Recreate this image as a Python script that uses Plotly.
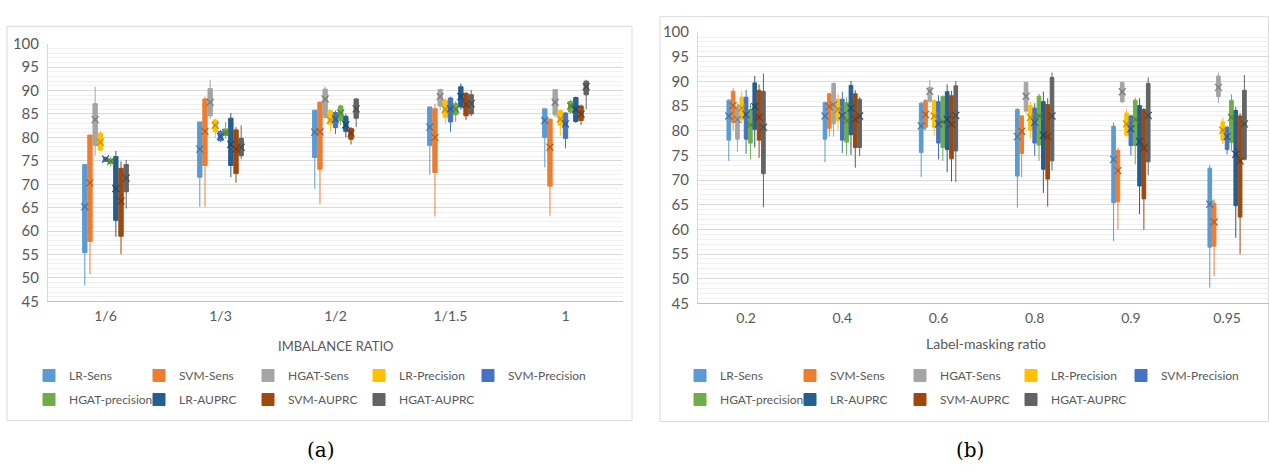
import plotly.graph_objects as go

# ---------------- data ----------------
SERIES = ["LR-Sens", "SVM-Sens", "HGAT-Sens", "LR-Precision", "SVM-Precision",
          "HGAT-precision", "LR-AUPRC", "SVM-AUPRC", "HGAT-AUPRC"]
COLORS = ["#5B9BD5", "#ED7D31", "#A5A5A5", "#FFC000", "#4472C4",
          "#70AD47", "#255E91", "#9E480E", "#636363"]

CATS_A = ["1/6", "1/3", "1/2", "1/1.5", "1"]
CATS_B = ["0.2", "0.4", "0.6", "0.8", "0.9", "0.95"]

# panel (a): rows = series, columns = imbalance ratio
A_LO = [[48.4, 65.2, 69.1, 72.0, 73.6], [50.8, 65.2, 65.8, 63.1, 63.3], [76.1, 84.0, 84.0, 85.9, 84.3],
        [77.0, 80.0, 81.3, 82.9, 80.3], [74.7, 79.0, 80.7, 81.2, 77.7], [73.8, 79.8, 82.6, 83.3, 85.0],
        [58.8, 71.5, 80.0, 85.9, 83.1], [55.1, 70.3, 78.5, 83.7, 82.6], [64.8, 75.4, 82.2, 84.5, 86.0]]
A_Q1 = [[55.4, 71.5, 75.7, 78.3, 80.0], [57.8, 74.0, 73.2, 72.5, 69.6], [78.3, 84.6, 84.3, 86.7, 84.8],
        [77.3, 81.2, 82.8, 84.3, 82.6], [74.9, 79.3, 82.1, 83.3, 79.8], [74.4, 80.4, 83.6, 84.8, 85.4],
        [62.3, 74.0, 81.3, 86.5, 83.4], [58.9, 72.3, 79.6, 84.6, 83.6], [68.4, 76.1, 84.1, 85.0, 89.1]]
A_MED = [[67.9, 79.2, 83.3, 84.8, 85.0], [75.2, 85.0, 84.6, 83.5, 81.3], [83.6, 87.8, 88.5, 88.8, 87.8],
         [79.5, 82.5, 84.0, 86.2, 84.0], [75.3, 80.3, 84.0, 86.0, 82.5], [74.8, 81.0, 85.5, 86.0, 86.8],
         [69.5, 78.8, 83.0, 88.8, 86.0], [67.5, 77.5, 80.8, 87.0, 85.0], [71.0, 77.8, 86.0, 87.3, 90.8]]
A_Q3 = [[74.2, 83.3, 85.8, 86.5, 86.1], [80.5, 88.2, 87.5, 86.1, 83.9], [87.2, 90.4, 90.3, 90.2, 90.2],
        [80.9, 83.7, 85.7, 87.9, 85.7], [75.7, 81.3, 85.3, 88.4, 85.2], [75.4, 81.8, 86.7, 87.2, 87.7],
        [75.9, 84.1, 84.5, 90.8, 88.5], [73.4, 81.6, 81.9, 89.4, 86.7], [74.2, 79.8, 88.2, 89.1, 92.0]]
A_HI = [[74.2, 83.3, 85.8, 86.5, 86.1], [80.5, 88.7, 87.7, 87.2, 83.9], [90.8, 92.3, 90.8, 90.4, 90.2],
        [81.4, 84.0, 86.0, 88.5, 86.0], [75.9, 81.6, 85.7, 88.7, 85.4], [75.9, 83.3, 87.0, 87.7, 88.0],
        [77.1, 85.2, 85.0, 91.5, 88.7], [74.9, 82.2, 82.2, 89.7, 87.0], [75.2, 82.6, 88.4, 90.1, 92.3]]
A_MEAN = [[65.2, 77.5, 81.1, 82.2, 83.6], [70.3, 81.3, 81.2, 80.0, 77.9], [83.8, 87.5, 88.2, 88.7, 87.5],
          [79.0, 82.6, 83.7, 86.0, 83.9], [75.4, 80.2, 83.9, 86.1, 82.9], [74.9, 81.0, 85.2, 86.0, 86.7],
          [69.1, 78.5, 82.7, 88.7, 86.0], [66.4, 77.5, 80.9, 87.0, 85.0], [71.3, 77.9, 86.1, 87.2, 90.8]]

# panel (b): rows = series, columns = label-masking ratio
B_LO = [[73.9, 73.6, 70.6, 64.4, 57.6, 48.2], [80.1, 78.8, 80.1, 70.6, 59.9, 50.5],
        [75.7, 78.8, 85.6, 83.5, 85.6, 85.6], [81.6, 80.1, 79.0, 78.4, 78.8, 77.3],
        [75.3, 75.5, 74.2, 74.9, 75.0, 75.2], [74.2, 75.1, 73.9, 73.9, 73.2, 75.8],
        [76.6, 75.1, 71.6, 67.4, 63.1, 58.3], [74.5, 72.5, 69.7, 64.6, 59.9, 55.0],
        [64.5, 74.9, 69.6, 71.9, 71.0, 74.0]]
B_Q1 = [[78.1, 78.3, 75.6, 70.8, 65.4, 56.4], [81.7, 80.5, 80.7, 75.4, 65.6, 56.6],
        [78.3, 81.4, 86.0, 84.0, 85.9, 86.9], [82.3, 82.0, 80.7, 80.1, 79.1, 78.1],
        [78.3, 78.1, 77.5, 77.5, 77.0, 76.2], [77.5, 77.7, 76.6, 77.1, 77.0, 77.6],
        [80.3, 79.2, 76.2, 72.2, 68.8, 64.8], [78.1, 76.6, 74.3, 70.2, 66.2, 62.5],
        [71.3, 76.6, 75.9, 73.9, 73.7, 74.2]]
B_MED = [[83.5, 84.0, 83.0, 82.0, 77.5, 68.8], [85.5, 85.0, 83.5, 80.5, 72.5, 62.0],
         [82.5, 85.5, 88.0, 87.5, 88.0, 89.0], [84.8, 84.5, 83.2, 82.8, 81.5, 80.2],
         [83.5, 83.5, 81.8, 82.0, 80.5, 78.8], [81.5, 82.5, 82.0, 83.0, 82.5, 83.0],
         [85.5, 85.0, 82.5, 80.0, 78.5, 76.0], [83.0, 82.5, 81.5, 79.5, 77.5, 75.0],
         [82.0, 83.0, 84.0, 84.0, 84.5, 82.5]]
B_Q3 = [[86.2, 85.7, 85.6, 84.3, 80.9, 72.4], [88.0, 87.5, 86.1, 83.0, 76.0, 65.3],
        [84.9, 89.6, 88.8, 89.8, 89.8, 91.1], [86.8, 86.4, 86.1, 85.1, 83.6, 81.8],
        [86.8, 86.4, 85.9, 84.6, 83.0, 80.7], [84.3, 85.7, 86.9, 87.0, 86.2, 86.2],
        [89.7, 89.2, 87.9, 85.9, 85.1, 84.1], [88.2, 87.5, 87.1, 85.3, 84.3, 83.0],
        [88.0, 86.4, 89.1, 90.8, 89.6, 88.2]]
B_HI = [[86.4, 85.9, 85.8, 84.6, 81.7, 73.1], [88.6, 87.7, 86.4, 83.2, 76.5, 66.1],
        [85.6, 89.8, 90.3, 89.9, 89.9, 91.8], [88.0, 87.4, 86.4, 85.9, 84.4, 82.7],
        [88.3, 87.9, 87.2, 85.6, 83.3, 81.0], [85.5, 86.8, 87.2, 87.5, 86.7, 87.4],
        [91.1, 90.1, 89.4, 87.9, 86.6, 84.8], [89.4, 88.2, 88.1, 86.6, 84.6, 83.6],
        [91.6, 86.8, 90.1, 91.8, 90.8, 91.3]]
B_MEAN = [[83.0, 83.0, 81.0, 78.8, 74.2, 65.1], [85.1, 84.9, 83.3, 79.9, 71.9, 61.5],
          [82.3, 85.3, 88.0, 87.0, 87.9, 88.8], [84.6, 84.3, 83.0, 82.7, 81.4, 80.1],
          [83.3, 83.1, 81.4, 81.7, 80.4, 78.8], [81.2, 82.0, 81.8, 83.0, 82.3, 82.7],
          [84.9, 84.6, 82.3, 79.1, 77.8, 75.2], [82.7, 82.3, 81.3, 78.8, 76.5, 73.9],
          [80.7, 83.0, 83.1, 83.0, 83.1, 81.4]]

Y_TICKS = list(range(45, 101, 5))

# ---------------- styling ----------------
W, H = 1269, 471
FONT = "Lato"
TXT = "#595959"
PITCH = 0.045      # dodge between series inside one category (category units)
BOXW = 0.038
# legend text start (px) per column, and rows (px) for each panel
LEG_COLS = [[67, 177, 286, 397, 506], [718, 828, 938, 1049, 1159]]
LEG_ROWS = [380, 405]


def darker(hexcol, f=0.7):
    h = hexcol.lstrip("#")
    r, g, b = (int(h[i:i + 2], 16) for i in (0, 2, 4))
    return "rgb(%d,%d,%d)" % (r * f, g * f, b * f)


def px_x(p):
    return p / W


def px_y(p):
    return 1 - p / H


fig = go.Figure()

panels = [
    dict(cats=CATS_A, lo=A_LO, q1=A_Q1, med=A_MED, q3=A_Q3, hi=A_HI, mean=A_MEAN, xa="x", ya="y"),
    dict(cats=CATS_B, lo=B_LO, q1=B_Q1, med=B_MED, q3=B_Q3, hi=B_HI, mean=B_MEAN, xa="x2", ya="y2"),
]

legend_common = dict(
    orientation="h", xanchor="left", yanchor="middle",
    font=dict(family=FONT, size=12, color=TXT), bgcolor="rgba(0,0,0,0)",
    itemclick=False, itemdoubleclick=False,
)
legend_layout = {}
leg_idx = 0

for pi, p in enumerate(panels):
    n = len(p["cats"])
    for j, name in enumerate(SERIES):
        xs = [c + (j - (len(SERIES) - 1) / 2) * PITCH for c in range(n)]
        col = COLORS[j]
        leg_idx += 1
        leg_name = "legend" if leg_idx == 1 else "legend%d" % leg_idx
        row, colm = divmod(j, 5)
        legend_layout[leg_name] = dict(legend_common,
                                       x=px_x(LEG_COLS[pi][colm] - 38), y=px_y(LEG_ROWS[row]))
        fig.add_trace(go.Box(
            x=xs, q1=p["q1"][j], median=p["med"][j], q3=p["q3"][j],
            lowerfence=p["lo"][j], upperfence=p["hi"][j], mean=p["mean"][j],
            boxpoints=False, whiskerwidth=0, width=BOXW,
            name=name, fillcolor=col, line=dict(color=col, width=1),
            marker=dict(color=col),
            xaxis=p["xa"], yaxis=p["ya"], legend=leg_name,
        ))
        fig.add_trace(go.Scatter(
            x=xs, y=p["mean"][j], mode="markers", showlegend=False,
            marker=dict(symbol="x-thin", size=7,
                        line=dict(color=darker(col, 0.75), width=1.2)),
            xaxis=p["xa"], yaxis=p["ya"], hoverinfo="skip",
        ))

axis_common_y = dict(
    range=[45, 100], tickvals=Y_TICKS, showgrid=True, gridcolor="#d9d9d9", gridwidth=1,
    minor=dict(dtick=1, showgrid=True, gridcolor="#f0f0f0", gridwidth=1),
    zeroline=False, showline=True, linecolor="#d9d9d9", linewidth=1,
    ticks="outside", ticklen=5, tickcolor="rgba(0,0,0,0)",
    tickfont=dict(family=FONT, size=15, color=TXT), fixedrange=True,
)
axis_common_x = dict(
    showgrid=False, zeroline=False, showline=True, linecolor="#bfbfbf", linewidth=1,
    ticks="outside", ticklen=2, tickcolor="rgba(0,0,0,0)",
    tickfont=dict(family=FONT, size=14, color=TXT), fixedrange=True,
)

fig.update_layout(
    width=W, height=H, margin=dict(l=0, r=0, t=0, b=0),
    paper_bgcolor="white", plot_bgcolor="white",
    boxmode="overlay", showlegend=True,
    xaxis=dict(axis_common_x, domain=[px_x(48), px_x(623)], range=[-0.5, len(CATS_A) - 0.5],
               tickvals=list(range(len(CATS_A))), ticktext=CATS_A, anchor="y"),
    yaxis=dict(axis_common_y, domain=[px_y(303), px_y(35)], anchor="x"),
    xaxis2=dict(axis_common_x, domain=[px_x(698), 1.0], range=[-0.5, -0.5 + 571 / 96.2],
                tickvals=list(range(len(CATS_B))), ticktext=CATS_B, anchor="y2"),
    yaxis2=dict(axis_common_y, domain=[px_y(305), px_y(23)], anchor="x2"),
    shapes=[
        dict(type="rect", xref="paper", yref="paper", layer="below",
             x0=px_x(7), x1=px_x(632), y0=px_y(427), y1=px_y(17),
             line=dict(color="#d9d9d9", width=1)),
        dict(type="rect", xref="paper", yref="paper", layer="below",
             x0=px_x(660), x1=px_x(1268.5), y0=px_y(428), y1=px_y(7),
             line=dict(color="#d9d9d9", width=1)),
    ],
    annotations=[
        dict(text="IMBALANCE RATIO", xref="paper", yref="paper", x=px_x(335), y=px_y(349),
             xanchor="center", yanchor="middle",
             showarrow=False, font=dict(family=FONT, size=13, color=TXT)),
        dict(text="Label-masking ratio", xref="paper", yref="paper", x=px_x(986), y=px_y(347),
             xanchor="center", yanchor="middle",
             showarrow=False, font=dict(family=FONT, size=14, color=TXT)),
        dict(text="(a)", xref="paper", yref="paper", x=px_x(321), y=px_y(458),
             xanchor="center", yanchor="middle",
             showarrow=False, font=dict(family="DejaVu Serif", size=20, color="black")),
        dict(text="(b)", xref="paper", yref="paper", x=px_x(970), y=px_y(458),
             xanchor="center", yanchor="middle",
             showarrow=False, font=dict(family="DejaVu Serif", size=20, color="black")),
    ],
)
fig.update_layout(**legend_layout)

fig.write_html("out.html", config={"displayModeBar": False},
               post_script="document.body.style.margin='0';document.body.style.overflow='hidden';")
